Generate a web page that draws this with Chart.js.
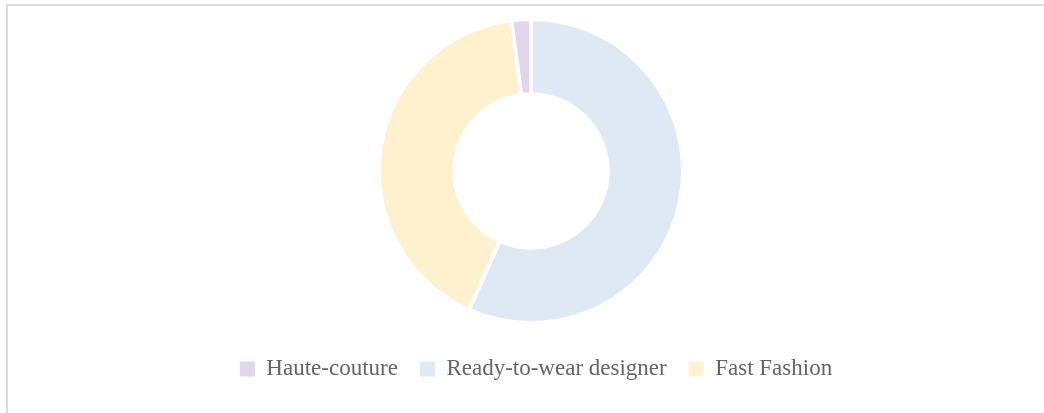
<!DOCTYPE html>
<html>
<head>
<meta charset="utf-8">
<script src="https://cdn.jsdelivr.net/npm/chart.js@4/dist/chart.umd.min.js"></script>
<style>
    html, body {
        margin: 0;
        padding: 0;
        width: 1044px;
        height: 413px;
        overflow: hidden;
        background: #ffffff;
    }
    .frame {
        position: absolute;
        left: 6px;
        top: 4px;
        width: 1100px;
        height: 500px;
        border-top: 2px solid #dcdcdc;
        border-left: 2px solid #dcdcdc;
    }
    .chart-wrap {
        position: absolute;
        left: 0;
        top: 0;
        width: 1044px;
        height: 413px;
    }
</style>
</head>
<body>
<div class="frame"></div>
<div class="chart-wrap">
    <canvas id="marketChart"></canvas>
</div>
<script>
// Market segments
const segments = ['Haute-couture', 'Ready-to-wear designer', 'Fast Fashion'];
const shares = [2, 55, 40];
const segmentColors = ['#e2d6ec', '#dfe9f5', '#fff1cd'];

document.addEventListener('DOMContentLoaded', () => {
    initializeMarketChart();
});

// nudge the legend row a few px right of the doughnut centre
const legendShift = {
    id: 'legendShift',
    afterLayout(chart) {
        chart.legend.left += 5;
        chart.legend.right += 5;
    }
};

function initializeMarketChart() {
    const ctx = document.getElementById('marketChart').getContext('2d');
    const total = shares.reduce((a, b) => a + b, 0);
    const baseLabels = Chart.overrides.doughnut.plugins.legend.labels.generateLabels;

    const data = {
        labels: segments,
        datasets: [{
            data: shares,
            backgroundColor: segmentColors,
            borderColor: '#ffffff',
            borderWidth: 4,
            hoverOffset: 0
        }]
    };

    const config = {
        type: 'doughnut',
        data: data,
        plugins: [legendShift],
        options: {
            responsive: true,
            maintainAspectRatio: false,
            animation: false,
            // first slice ends at 12 o'clock
            rotation: -(shares[0] / total) * 360,
            radius: 152,
            cutout: 82,
            layout: {
                padding: { left: 18, right: 0, top: 6.5, bottom: 22.5 }
            },
            plugins: {
                legend: {
                    position: 'bottom',
                    labels: {
                        color: '#666666',
                        boxWidth: 15,
                        boxHeight: 15,
                        padding: 22,
                        font: {
                            family: '"Liberation Serif", serif',
                            size: 23
                        },
                        // plain squares, no white outline
                        generateLabels: (chart) => baseLabels(chart).map(item => ({ ...item, lineWidth: 0 }))
                    }
                },
                tooltip: {
                    enabled: false
                }
            }
        }
    };

    new Chart(ctx, config);
}
</script>
</body>
</html>
